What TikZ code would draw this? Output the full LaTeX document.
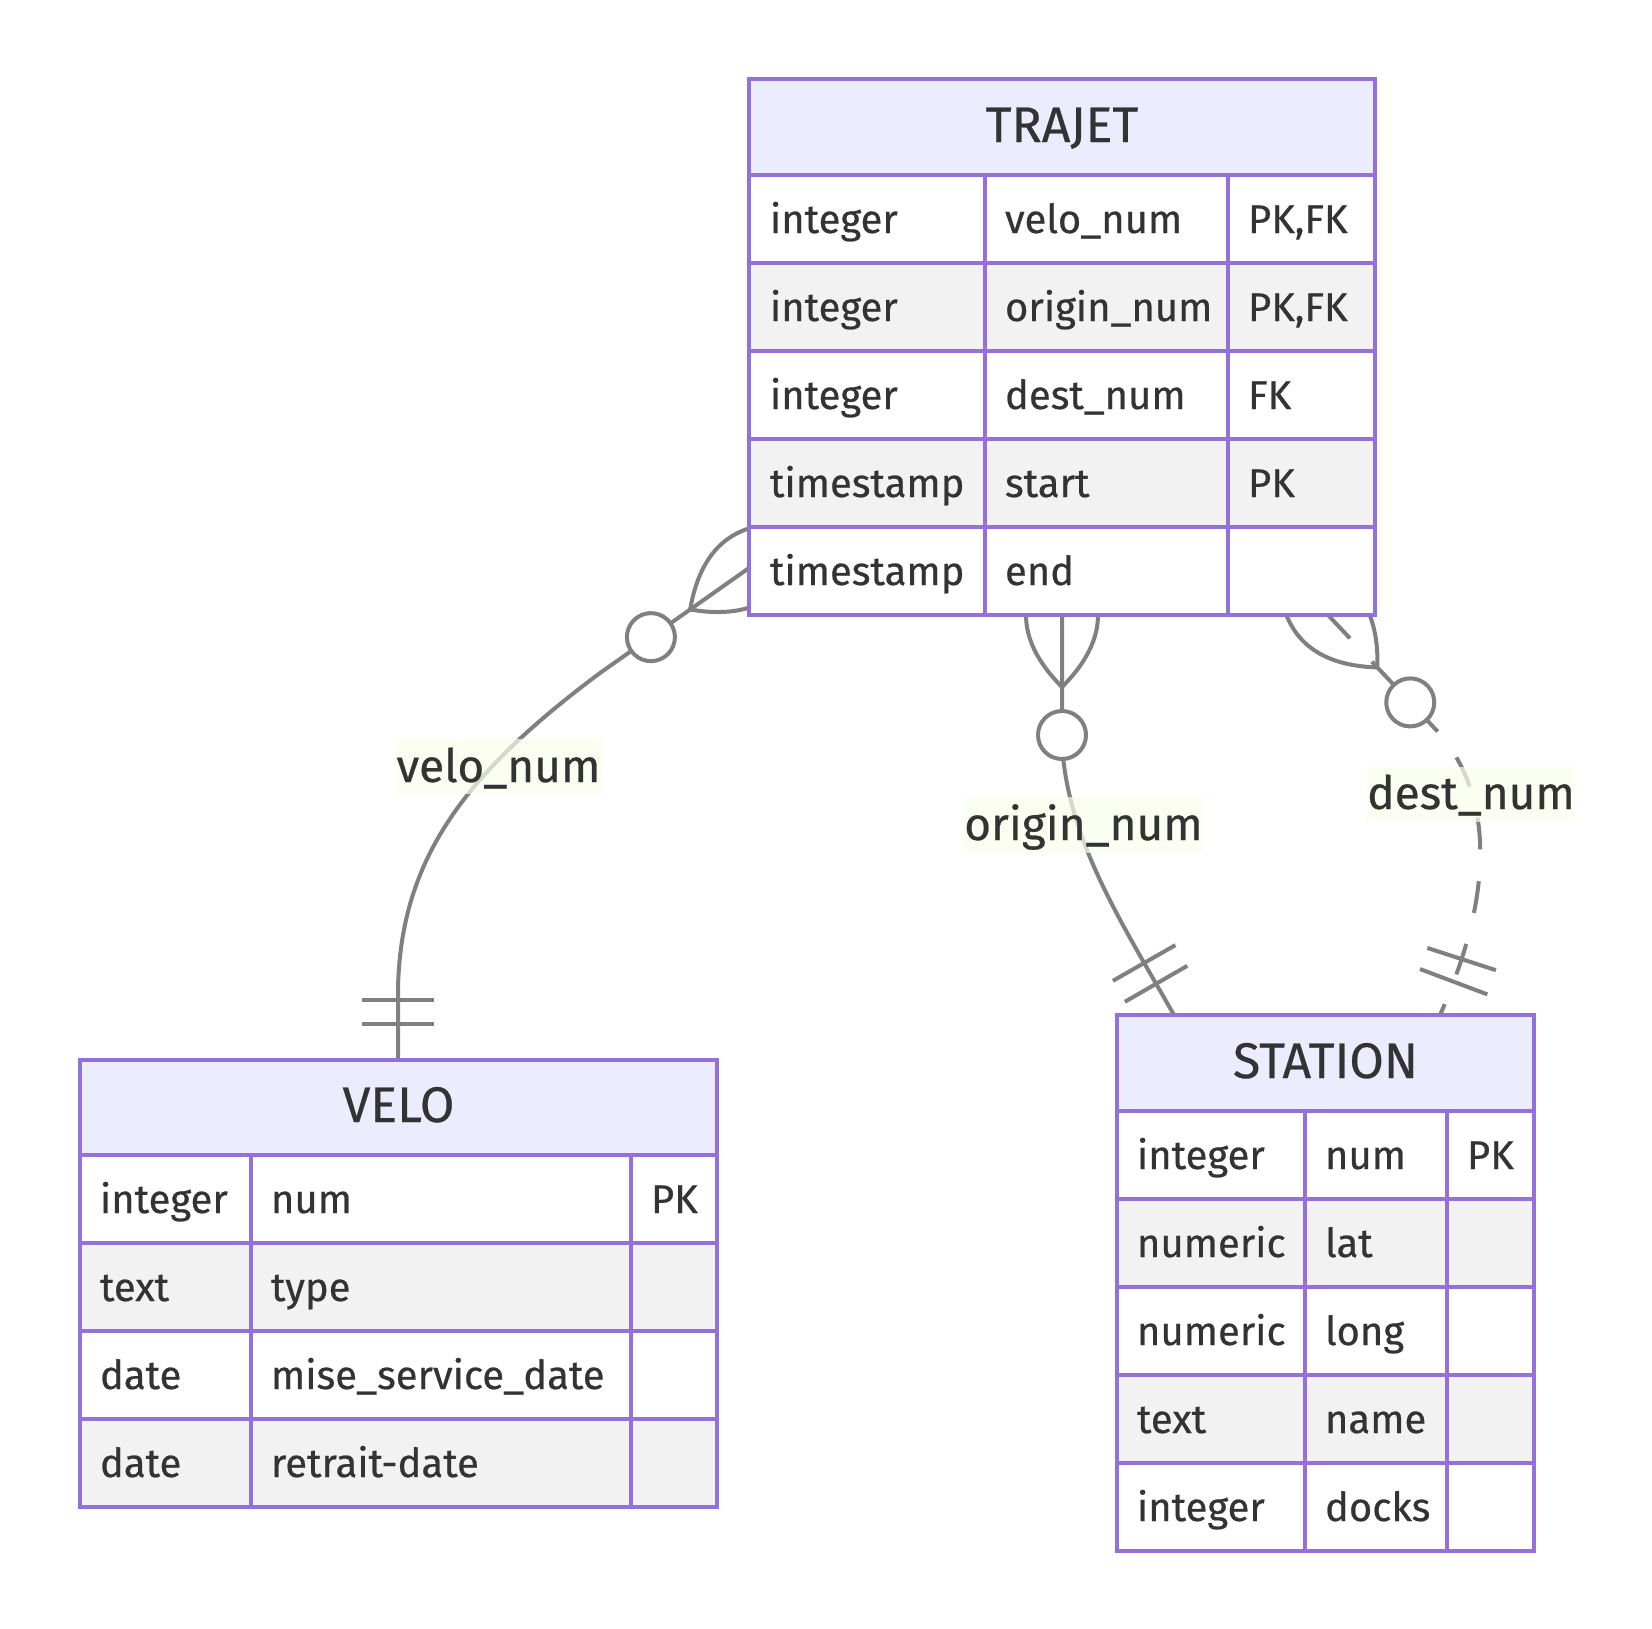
\documentclass[tikz,border=0pt]{standalone}
\usepackage{fontspec}
\setmainfont{Fira Sans}[FakeBold=0.5]
\usetikzlibrary{decorations.markings}

\tikzset{
  entityline/.style={draw=boxColor,line width=4pt},
  headcell/.style={entityline,fill=headColor},
  oddcell/.style={entityline,fill=white},
  evencell/.style={entityline,fill=rowColor},
  celltext/.style={text=textColor,anchor=base west,inner sep=0pt,outer sep=0pt,font=\fontsize{40}{48}\selectfont},
  titletext/.style={text=textColor,anchor=base,inner sep=0pt,outer sep=0pt,font=\fontsize{50}{60}\selectfont},
  relline/.style={draw=lineColor,line width=4pt},
  relmark/.style={draw=lineColor,line width=4pt,solid},
  relbox/.style={fill=labelColor,fill opacity=0.7},
  reltext/.style={text=textColor,anchor=base,inner sep=0pt,outer sep=0pt,font=\fontsize{46}{55}\selectfont},
  zeromany/.style={postaction={decorate,decoration={markings,
    mark=at position 0.01pt with {
      \draw[relmark] (-72,0) .. controls (-24,48) and (24,48) .. (72,0)
        .. controls (24,-48) and (-24,-48) .. (-72,0);
      \draw[relmark,fill=white] (120,0) circle[radius=24];}}}},
  exactlyone/.style={postaction={decorate,decoration={markings,
    mark=at position -60pt with {\draw[relmark] (0,-36) -- (0,36);},
    mark=at position -36pt with {\draw[relmark] (0,-36) -- (0,36);}}}}
}

\begin{document}
\begin{tikzpicture}[x=1pt,y=-1pt]
\definecolor{boxColor}{RGB}{147,112,219}
\definecolor{headColor}{RGB}{236,236,255}
\definecolor{rowColor}{RGB}{242,242,242}
\definecolor{lineColor}{RGB}{128,128,128}
\definecolor{textColor}{RGB}{51,51,51}
\definecolor{labelColor}{RGB}{249,255,236}
\path[use as bounding box,fill=white] (0,0) rectangle (1652,1628);

% attachment points
\coordinate (trajet-velo) at (749,568);
\coordinate (trajet-origin) at (1062,615);
\coordinate (trajet-dest) at (1328,615);
\coordinate (velo-top) at (398,1060);
\coordinate (station-origin) at (1174,1015);
\coordinate (station-dest) at (1440,1015);

% relations
\path[relline,zeromany,exactlyone] (trajet-velo) -- (600,673)
	.. controls (470,770) and (400,855) .. (398,990) -- (velo-top);
\path[relline,zeromany,exactlyone] (trajet-origin) -- (1062,745)
	.. controls (1068,840) and (1120,920) .. (station-origin);
\path[relline,dash pattern=on 32pt off 32pt,zeromany,exactlyone] (trajet-dest) -- (1440,734)
	.. controls (1487,790) and (1500,880) .. (station-dest);

\path[relbox] (395,739) rectangle (602,794);
\node[reltext] (velo-label) at (498.5,782) {velo\_num};
\path[relbox] (964,797) rectangle (1203,853);
\node[reltext] (origin-label) at (1083.5,840) {origin\_num};
\path[relbox] (1367,767) rectangle (1575,822);
\node[reltext] (dest-label) at (1471,809) {dest\_num};

% TRAJET
\path[headcell] (749,79) rectangle (1375,175);
\node[titletext] (trajet) at (1062,142) {TRAJET};
\path[oddcell] (749,175) rectangle (1375,263);
\path[evencell] (749,263) rectangle (1375,351);
\path[oddcell] (749,351) rectangle (1375,439);
\path[evencell] (749,439) rectangle (1375,527);
\path[oddcell] (749,527) rectangle (1375,615);
\path[entityline] (985,175) -- (985,615);
\path[entityline] (1228,175) -- (1228,615);

\node[celltext] (trajet-type-1) at (770,233) {integer};
\node[celltext] (trajet-name-1) at (1005,233) {velo\_num};
\node[celltext] (trajet-key-1) at (1248,233) {PK,FK};
\node[celltext] (trajet-type-2) at (770,321) {integer};
\node[celltext] (trajet-name-2) at (1005,321) {origin\_num};
\node[celltext] (trajet-key-2) at (1248,321) {PK,FK};
\node[celltext] (trajet-type-3) at (770,409) {integer};
\node[celltext] (trajet-name-3) at (1005,409) {dest\_num};
\node[celltext] (trajet-key-3) at (1248,409) {FK};
\node[celltext] (trajet-type-4) at (770,497) {timestamp};
\node[celltext] (trajet-name-4) at (1005,497) {start};
\node[celltext] (trajet-key-4) at (1248,497) {PK};
\node[celltext] (trajet-type-5) at (770,585) {timestamp};
\node[celltext] (trajet-name-5) at (1005,585) {end};

% VELO
\path[headcell] (80,1060) rectangle (717,1155);
\node[titletext] (velo) at (398.5,1122) {VELO};
\path[oddcell] (80,1155) rectangle (717,1243);
\path[evencell] (80,1243) rectangle (717,1331);
\path[oddcell] (80,1331) rectangle (717,1419);
\path[evencell] (80,1419) rectangle (717,1507);
\path[entityline] (251,1155) -- (251,1507);
\path[entityline] (631,1155) -- (631,1507);

\node[celltext] (velo-type-1) at (100,1213) {integer};
\node[celltext] (velo-name-1) at (271,1213) {num};
\node[celltext] (velo-key-1) at (651,1213) {PK};
\node[celltext] (velo-type-2) at (100,1301) {text};
\node[celltext] (velo-name-2) at (271,1301) {type};
\node[celltext] (velo-type-3) at (100,1389) {date};
\node[celltext] (velo-name-3) at (271,1389) {mise\_service\_date};
\node[celltext] (velo-type-4) at (100,1477) {date};
\node[celltext] (velo-name-4) at (271,1477) {retrait-date};

% STATION
\path[headcell] (1117,1015) rectangle (1534,1111);
\node[titletext] (station) at (1325.5,1078) {STATION};
\path[oddcell] (1117,1111) rectangle (1534,1199);
\path[evencell] (1117,1199) rectangle (1534,1287);
\path[oddcell] (1117,1287) rectangle (1534,1375);
\path[evencell] (1117,1375) rectangle (1534,1463);
\path[oddcell] (1117,1463) rectangle (1534,1551);
\path[entityline] (1305,1111) -- (1305,1551);
\path[entityline] (1447,1111) -- (1447,1551);

\node[celltext] (station-type-1) at (1137,1169) {integer};
\node[celltext] (station-name-1) at (1325,1169) {num};
\node[celltext] (station-key-1) at (1467,1169) {PK};
\node[celltext] (station-type-2) at (1137,1257) {numeric};
\node[celltext] (station-name-2) at (1325,1257) {lat};
\node[celltext] (station-type-3) at (1137,1345) {numeric};
\node[celltext] (station-name-3) at (1325,1345) {long};
\node[celltext] (station-type-4) at (1137,1433) {text};
\node[celltext] (station-name-4) at (1325,1433) {name};
\node[celltext] (station-type-5) at (1137,1521) {integer};
\node[celltext] (station-name-5) at (1325,1521) {docks};
\end{tikzpicture}
\end{document}
